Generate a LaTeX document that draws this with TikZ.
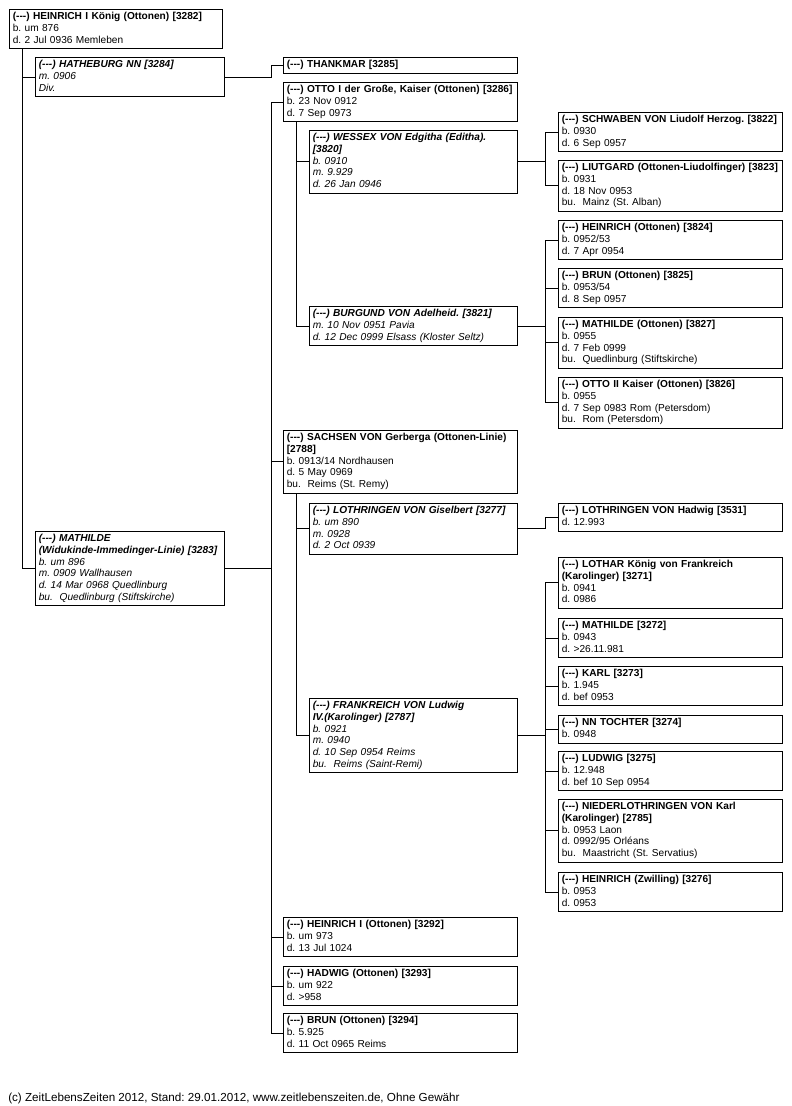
\documentclass[tikz,border=0pt]{standalone}
\usepackage{fontspec}
\setmainfont{Liberation Sans}
\frenchspacing
\newcommand{\unk}{(-{}-{}-)}

\begin{document}
\begin{tikzpicture}[x=0.75pt, y=-0.75pt,
  pers/.style={draw, line width=0.75pt, anchor=north west, align=left,
    inner xsep=2.5pt, inner ysep=1.6pt, font=\fontsize{7.6}{8.75}\selectfont,
    execute at begin node=\strut, execute at end node=\strut},
  root/.style={pers, text width=154.75pt},
  spa/.style={pers, text width=136.75pt,
    font=\fontsize{7.6}{8.75}\selectfont\itshape},
  kid/.style={pers, text width=170.5pt},
  spb/.style={pers, text width=151pt,
    font=\fontsize{7.6}{8.75}\selectfont\itshape},
  gkid/.style={pers, text width=163pt},
  link/.style={line width=0.75pt},
]
\useasboundingbox (0,0) rectangle (792,1106);

%% Column 1 -- root and spouses
\node[root] (p3282) at (9,9)
  {\textbf{\unk{} HEINRICH I König (Ottonen) [3282]}\\ b. um 876\\
   d. 2 Jul 0936 Memleben};
\node[spa] (s3284) at (35,57)
  {\textbf{\unk{} HATHEBURG NN [3284]}\\ m. 0906\\ Div.};
\node[spa] (s3283) at (35,531)
  {\textbf{\unk{} MATHILDE}\\ \textbf{(Widukinde-Immedinger-Linie) [3283]}\\
   b. um 896\\ m. 0909 Wallhausen\\ d. 14 Mar 0968 Quedlinburg\\
   bu.\ \ Quedlinburg (Stiftskirche)};

%% Column 2 -- children
\node[kid] (c3285) at (283,57)
  {\textbf{\unk{} THANKMAR [3285]}};
\node[kid] (c3286) at (283,82)
  {\textbf{\unk{} OTTO I der Große, Kaiser (Ottonen) [3286]}\\
   b. 23 Nov 0912\\ d. 7 Sep 0973};
\node[kid] (c2788) at (283,430)
  {\textbf{\unk{} SACHSEN VON Gerberga (Ottonen-Linie)}\\ \textbf{[2788]}\\
   b. 0913/14 Nordhausen\\ d. 5 May 0969\\ bu.\ \ Reims (St. Remy)};
\node[kid] (c3292) at (283,917)
  {\textbf{\unk{} HEINRICH I (Ottonen) [3292]}\\ b. um 973\\ d. 13 Jul 1024};
\node[kid] (c3293) at (283,966)
  {\textbf{\unk{} HADWIG (Ottonen) [3293]}\\ b. um 922\\ d. >958};
\node[kid] (c3294) at (283,1013)
  {\textbf{\unk{} BRUN (Ottonen) [3294]}\\ b. 5.925\\ d. 11 Oct 0965 Reims};

%% Column 2 -- spouses of the children
\node[spb] (s3820) at (309,130)
  {\textbf{\unk{} WESSEX VON Edgitha (Editha).}\\ \textbf{[3820]}\\
   b. 0910\\ m. 9.929\\ d. 26 Jan 0946};
\node[spb] (s3821) at (309,306)
  {\textbf{\unk{} BURGUND VON Adelheid. [3821]}\\ m. 10 Nov 0951 Pavia\\
   d. 12 Dec 0999 Elsass (Kloster Seltz)};
\node[spb] (s3277) at (309,503)
  {\textbf{\unk{} LOTHRINGEN VON Giselbert [3277]}\\ b. um 890\\ m. 0928\\
   d. 2 Oct 0939};
\node[spb] (s2787) at (309,698)
  {\textbf{\unk{} FRANKREICH VON Ludwig}\\ \textbf{IV.(Karolinger) [2787]}\\
   b. 0921\\ m. 0940\\ d. 10 Sep 0954 Reims\\ bu.\ \ Reims (Saint-Remi)};

%% Column 3 -- grandchildren
\node[gkid] (c3822) at (558,112)
  {\textbf{\unk{} SCHWABEN VON Liudolf Herzog. [3822]}\\ b. 0930\\
   d. 6 Sep 0957};
\node[gkid] (c3823) at (558,160)
  {\textbf{\unk{} LIUTGARD (Ottonen-Liudolfinger) [3823]}\\ b. 0931\\
   d. 18 Nov 0953\\ bu.\ \ Mainz (St. Alban)};
\node[gkid] (c3824) at (558,220)
  {\textbf{\unk{} HEINRICH (Ottonen) [3824]}\\ b. 0952/53\\ d. 7 Apr 0954};
\node[gkid] (c3825) at (558,268)
  {\textbf{\unk{} BRUN (Ottonen) [3825]}\\ b. 0953/54\\ d. 8 Sep 0957};
\node[gkid] (c3827) at (558,317)
  {\textbf{\unk{} MATHILDE (Ottonen) [3827]}\\ b. 0955\\ d. 7 Feb 0999\\
   bu.\ \ Quedlinburg (Stiftskirche)};
\node[gkid] (c3826) at (558,377)
  {\textbf{\unk{} OTTO II Kaiser (Ottonen) [3826]}\\ b. 0955\\
   d. 7 Sep 0983 Rom (Petersdom)\\ bu.\ \ Rom (Petersdom)};
\node[gkid] (c3531) at (558,503)
  {\textbf{\unk{} LOTHRINGEN VON Hadwig [3531]}\\ d. 12.993};
\node[gkid] (c3271) at (558,557)
  {\textbf{\unk{} LOTHAR König von Frankreich}\\ \textbf{(Karolinger) [3271]}\\
   b. 0941\\ d. 0986};
\node[gkid] (c3272) at (558,618)
  {\textbf{\unk{} MATHILDE [3272]}\\ b. 0943\\ d. >26.11.981};
\node[gkid] (c3273) at (558,666)
  {\textbf{\unk{} KARL [3273]}\\ b. 1.945\\ d. bef 0953};
\node[gkid] (c3274) at (558,715)
  {\textbf{\unk{} NN TOCHTER [3274]}\\ b. 0948};
\node[gkid] (c3275) at (558,751)
  {\textbf{\unk{} LUDWIG [3275]}\\ b. 12.948\\ d. bef 10 Sep 0954};
\node[gkid] (c2785) at (558,799)
  {\textbf{\unk{} NIEDERLOTHRINGEN VON Karl}\\ \textbf{(Karolinger) [2785]}\\
   b. 0953 Laon\\ d. 0992/95 Orléans\\ bu.\ \ Maastricht (St. Servatius)};
\node[gkid] (c3276) at (558,872)
  {\textbf{\unk{} HEINRICH (Zwilling) [3276]}\\ b. 0953\\ d. 0953};

%% Spouse lines
\foreach \p/\s in {p3282/s3284, p3282/s3283, c3286/s3820, c3286/s3821,
  c2788/s3277, c2788/s2787}{
  \draw[link] ([xshift=9.75pt]\p.south west) |- (\s.west);
}

%% Child lines
\foreach \s/\c in {s3284/c3285, s3283/c3286, s3283/c2788, s3283/c3292,
  s3283/c3293, s3283/c3294}{
  \draw[link] (\s.east) -| ([xshift=-8.5pt]\c.west) -- (\c.west);
}
\foreach \s/\c in {s3820/c3822, s3820/c3823, s3821/c3824, s3821/c3825,
  s3821/c3827, s3821/c3826, s3277/c3531, s2787/c3271, s2787/c3272,
  s2787/c3273, s2787/c3274, s2787/c3275, s2787/c2785, s2787/c3276}{
  \draw[link] (\s.east) -| ([xshift=-9.75pt]\c.west) -- (\c.west);
}

%% Footer
\node[anchor=base west, inner sep=0pt, font=\fontsize{8.75}{10}\selectfont]
  (foot) at (8,1101)
  {(c) ZeitLebensZeiten 2012, Stand: 29.01.2012, www.zeitlebenszeiten.de, Ohne Gewähr};
\end{tikzpicture}
\end{document}
